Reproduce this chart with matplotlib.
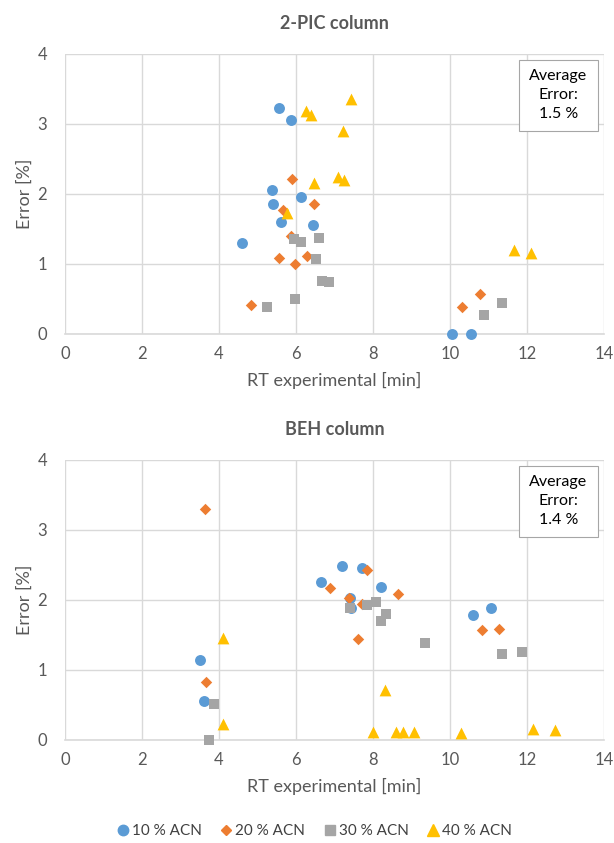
import matplotlib.pyplot as plt
from matplotlib.lines import Line2D
from matplotlib.patches import Rectangle

plt.rcParams['font.family'] = ['Lato', 'DejaVu Sans']

# 2-PIC column
pic_10_x = [5.57, 5.88, 5.37, 6.13, 5.40, 5.62, 6.45, 4.61, 10.05, 10.55]
pic_10_y = [3.23, 3.06, 2.05, 1.96, 1.85, 1.60, 1.55, 1.30, 0.0, 0.0]
pic_20_x = [5.89, 6.48, 5.67, 5.87, 5.57, 6.29, 5.98, 4.84, 10.31, 10.79]
pic_20_y = [2.21, 1.85, 1.77, 1.39, 1.08, 1.11, 1.00, 0.41, 0.38, 0.56]
pic_30_x = [5.94, 6.13, 6.60, 6.53, 6.67, 6.85, 5.98, 5.24, 10.88, 11.35]
pic_30_y = [1.35, 1.31, 1.36, 1.07, 0.75, 0.73, 0.50, 0.38, 0.27, 0.44]
pic_40_x = [7.42, 6.26, 6.39, 7.21, 6.47, 7.10, 7.25, 5.76, 11.67, 12.11]
pic_40_y = [3.36, 3.18, 3.12, 2.90, 2.16, 2.24, 2.20, 1.72, 1.20, 1.15]

# BEH column
beh_10_x = [3.50, 3.60, 6.64, 7.20, 7.71, 8.22, 7.40, 7.44, 10.61, 11.06]
beh_10_y = [1.14, 0.55, 2.25, 2.49, 2.46, 2.18, 2.03, 1.88, 1.78, 1.89]
beh_20_x = [3.63, 3.67, 6.89, 7.85, 8.66, 7.38, 7.72, 7.60, 10.82, 11.27]
beh_20_y = [3.30, 0.82, 2.17, 2.42, 2.08, 2.02, 1.94, 1.44, 1.57, 1.59]
beh_30_x = [3.86, 3.74, 7.39, 7.84, 8.09, 8.33, 8.22, 9.35, 11.36, 11.87]
beh_30_y = [0.51, 0.00, 1.89, 1.92, 1.97, 1.80, 1.70, 1.38, 1.22, 1.25]
beh_40_x = [4.10, 4.11, 8.31, 7.99, 8.59, 8.78, 9.07, 10.28, 12.16, 12.72]
beh_40_y = [1.45, 0.23, 0.71, 0.11, 0.11, 0.11, 0.11, 0.09, 0.15, 0.14]

labels = ["10 % ACN", "20 % ACN", "30 % ACN", "40 % ACN"]
colors = ["#5B9BD5", "#ED7D31", "#A5A5A5", "#FFC000"]
markers = ["o", "D", "s", "^"]
sizes = [62, 34, 62, 72]

panels = [
    ("2-PIC column", "1.5 %",
     [(pic_10_x, pic_10_y), (pic_20_x, pic_20_y), (pic_30_x, pic_30_y), (pic_40_x, pic_40_y)]),
    ("BEH column", "1.4 %",
     [(beh_10_x, beh_10_y), (beh_20_x, beh_20_y), (beh_30_x, beh_30_y), (beh_40_x, beh_40_y)]),
]

fig = plt.figure(figsize=(6.14, 8.43), dpi=100)
W, H = 614, 843
boxes = [(65, 54, 604, 333.5), (65, 460, 604, 739.7)]
txt = "#595959"

for (title, avg, series), (l, t, r, b) in zip(panels, boxes):
    ax = fig.add_axes([l / W, 1 - b / H, (r - l) / W, (b - t) / H])
    for (xs, ys), c, m, s in zip(series, colors, markers, sizes):
        ax.scatter(xs, ys, c=c, marker=m, s=s, linewidths=0, zorder=3, clip_on=False)
    ax.set_xlim(0, 14)
    ax.set_ylim(0, 4)
    ax.set_xticks(range(0, 15, 2))
    ax.set_yticks(range(0, 5))
    ax.grid(True, color="#D9D9D9", linewidth=1)
    ax.set_axisbelow(True)
    for sp in ["top", "right", "left"]:
        ax.spines[sp].set_visible(False)
    ax.spines["bottom"].set_color("#D9D9D9")
    ax.spines["bottom"].set_linewidth(1.2)
    ax.tick_params(axis="x", length=0, labelsize=12, colors=txt, pad=9)
    ax.tick_params(axis="y", length=0, labelsize=12, colors=txt, pad=13)
    ax.set_xlabel("RT experimental [min]", fontsize=13, color=txt, labelpad=7)
    ax.set_ylabel("Error [%]", fontsize=13, color=txt, labelpad=3)
    ax.set_title(title, fontsize=13, fontweight="bold", color=txt, pad=18)
    # average error box
    ax.add_patch(Rectangle((0.8423, 0.726), 0.1466, 0.252, transform=ax.transAxes,
                           fc="white", ec="#A6A6A6", lw=0.8, zorder=5, clip_on=False))
    ax.text(0.9156, 0.852, "Average\nError:\n" + avg, transform=ax.transAxes,
            ha="center", va="center", fontsize=11.5, color="black", linespacing=1.45,
            zorder=6)

handles = [Line2D([], [], linestyle="none", marker=m, color=c, markersize=ms)
           for m, c, ms in zip(markers, colors, [7.5, 5.5, 7.5, 8])]
fig.legend(handles, labels, loc="center", bbox_to_anchor=(313 / W, 1 - 831 / H), ncol=4,
           frameon=False, fontsize=11, handletextpad=0.0, columnspacing=1.0,
           handlelength=1.2, labelcolor="#404040")

fig.savefig("out.png", dpi=100)
